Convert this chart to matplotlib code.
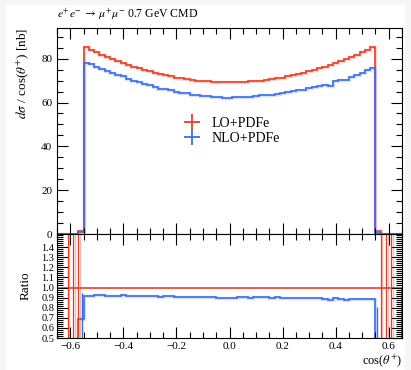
import numpy as np
import matplotlib
matplotlib.use("Agg")
import matplotlib.pyplot as plt
from matplotlib.ticker import MultipleLocator
from matplotlib.lines import Line2D
from matplotlib.patches import Rectangle

plt.rcParams['font.family'] = ['Liberation Serif', 'DejaVu Serif']
plt.rcParams['mathtext.fontset'] = 'stix'

# ===============================
# data
# ===============================
edges = np.round(np.linspace(-0.65, 0.65, 66), 3)

lo_core = [85.2, 84.1, 82.9, 81.9, 80.8, 79.9, 78.9, 78.0, 77.1, 76.3, 75.6,
           74.8, 74.2, 73.5, 72.9, 72.4, 71.9, 71.4, 71.0, 70.6, 70.3, 70.0,
           69.8, 69.6, 69.4, 69.3, 69.2, 69.2, 69.2, 69.3, 69.4, 69.6, 69.8,
           70.0, 70.3, 70.6, 71.0, 71.4, 71.9, 72.4, 72.9, 73.5, 74.2, 74.8,
           75.6, 76.3, 77.1, 78.0, 78.9, 79.9, 80.8, 81.9, 82.9, 84.1, 85.2]
nlo_core = [78.2, 77.4, 76.4, 75.5, 74.3, 73.5, 72.4, 71.9, 70.9, 70.0, 69.4,
            68.4, 67.8, 67.0, 66.0, 66.0, 65.6, 65.0, 64.5, 64.2, 63.6, 63.4,
            63.0, 63.0, 62.6, 62.4, 62.1, 61.9, 62.3, 62.5, 62.7, 62.6, 63.0,
            63.4, 63.5, 63.5, 64.0, 64.3, 64.6, 65.2, 65.5, 65.9, 66.5, 66.9,
            67.5, 67.9, 67.5, 69.7, 70.2, 70.2, 71.5, 72.6, 73.6, 74.7, 75.7]

lo = np.array([0, 0, 0, 0, 1.4] + lo_core + [1.4, 0, 0, 0, 0])
nlo = np.array([0, 0, 0, 0, 0.96] + nlo_core + [0.6, 0, 0, 0, 0])

# edge bins with big ratio uncertainty
edge_bin_x = [-0.555, 0.557]
edge_bin_err = [0.26, 0.38]
lo_spike_x = [-0.61, -0.59, -0.57, 0.57, 0.59, 0.61]

red = '#ee3b22'
blue = '#3a6cf2'

# ===============================
# figure
# ===============================
fig = plt.figure(figsize=(4.11, 3.70), dpi=100)
fig.patch.set_facecolor('#f6f6f6')
fig.patches.append(Rectangle((6/411, 0), 399/411, 1 - 5/370, transform=fig.transFigure,
                             facecolor='white', edgecolor='none', zorder=-1))

ax = fig.add_axes([57/411, 1 - 234/370, 345/411, 206/370])
axr = fig.add_axes([57/411, 1 - 338/370, 345/411, 104/370], sharex=ax)

# main panel
ax.stairs(lo, edges, color=red, lw=2.4, alpha=0.2)
ax.stairs(nlo, edges, color=blue, lw=2.4, alpha=0.2)
ax.stairs(lo, edges, color=red, lw=1.2)
ax.stairs(nlo, edges, color=blue, lw=1.2)

ax.set_xlim(-0.65, 0.65)
ax.set_ylim(0, 94)
ax.yaxis.set_major_locator(MultipleLocator(20))
ax.yaxis.set_minor_locator(MultipleLocator(5))
ax.set_ylabel(r"$d\sigma$ / cos($\theta^{+}$) [nb]", loc='top', fontsize=9.5)
ax.set_title(r"$e^{+}e^{-}\,\rightarrow\,\mu^{+}\mu^{-}$ 0.7 GeV CMD", loc='left',
             fontsize=8.5, pad=7)
plt.setp(ax.get_xticklabels(), visible=False)

handles = [Line2D([], [], color=red, marker='+', ls='none', ms=12, mew=1.3),
           Line2D([], [], color=blue, marker='+', ls='none', ms=12, mew=1.3)]
ax.legend(handles, ["LO+PDFe", "NLO+PDFe"], loc='center left', frameon=False,
          bbox_to_anchor=(0.33, 0.50), fontsize=10, handletextpad=0.8,
          labelspacing=0.15, handlelength=1.2)

# ratio panel
ratio_lo = np.ones_like(lo)
mask = lo > 0
i0, i1 = np.where(mask)[0][[0, -1]]
ratio_nlo = nlo[i0:i1 + 1] / lo[i0:i1 + 1]

axr.stairs(ratio_lo, edges, color=red, lw=1.2)
for sx in lo_spike_x:
    axr.vlines(sx + 0.006, 0.5, 1.53, color=red, lw=1.0, alpha=0.35)
    axr.vlines(sx, 0.5, 1.53, color=red, lw=0.9)
axr.stairs(ratio_nlo, edges[i0:i1 + 2], color=blue, lw=2.4, alpha=0.2)
axr.stairs(ratio_nlo, edges[i0:i1 + 2], color=blue, lw=1.2)
edge_ratio = [ratio_nlo[0], ratio_nlo[-1]]
axr.errorbar(edge_bin_x, edge_ratio, yerr=edge_bin_err, fmt='none', ecolor=blue, lw=1)

axr.set_ylim(0.5, 1.53)
axr.yaxis.set_major_locator(MultipleLocator(0.1))
axr.yaxis.set_minor_locator(MultipleLocator(0.02))
axr.set_yticks(np.round(np.arange(0.5, 1.45, 0.1), 1))
axr.set_ylabel("Ratio", fontsize=9.5)
axr.set_xlabel(r"cos($\theta^{+}$)", loc='right', fontsize=9, labelpad=1)
axr.xaxis.set_major_locator(MultipleLocator(0.2))
axr.xaxis.set_minor_locator(MultipleLocator(0.05))

for a in (ax, axr):
    a.tick_params(which='both', direction='in', top=True, right=True)
    a.tick_params(which='major', length=8, width=0.8)
    a.tick_params(which='minor', length=4, width=0.8)
ax.tick_params(axis='y', labelsize=8)
axr.tick_params(axis='y', labelsize=7.5, pad=2)
axr.tick_params(axis='x', labelsize=8, pad=3)
ax.yaxis.set_label_coords(-0.075, 1.0)
axr.yaxis.set_label_coords(-0.075, 0.5)

fig.savefig("out.png", dpi=100)
